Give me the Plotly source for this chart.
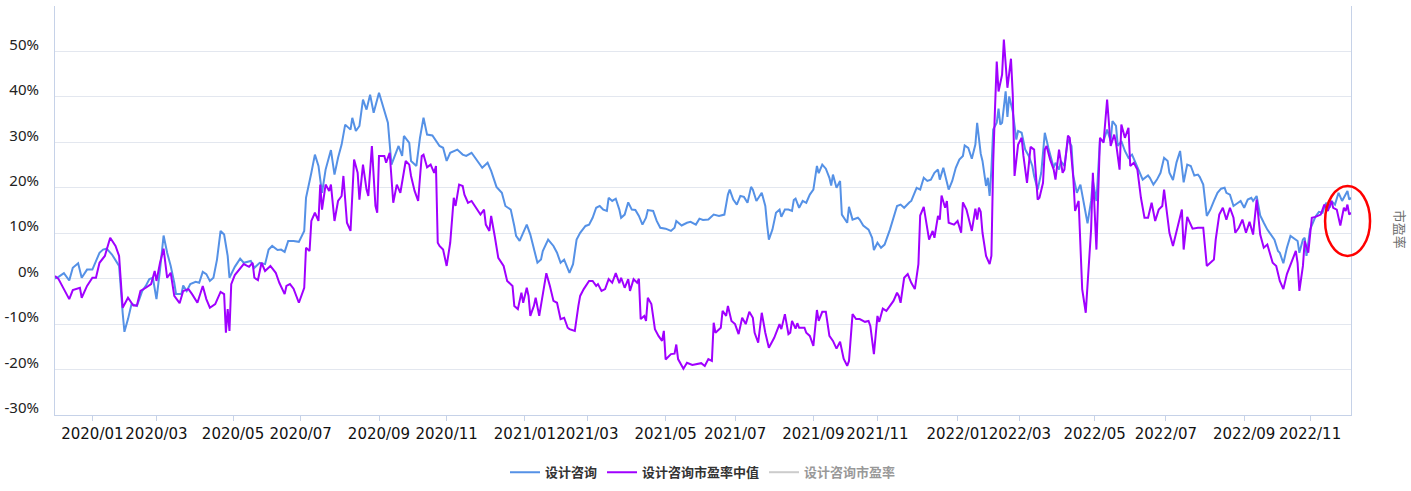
import pandas as pd
import plotly.graph_objects as go

# ---------------- data ----------------
start_date = "2019-12-03"
end_date = "2022-12-02"

# weekday exchange holidays (SSE) inside the window
market_holidays = [
    "2020-01-01", "2020-01-24", "2020-01-27", "2020-01-28", "2020-01-29", "2020-01-30", "2020-01-31",
    "2020-04-06", "2020-05-01", "2020-05-04", "2020-05-05", "2020-06-25", "2020-06-26",
    "2020-10-01", "2020-10-02", "2020-10-05", "2020-10-06", "2020-10-07", "2020-10-08",
    "2021-01-01", "2021-02-11", "2021-02-12", "2021-02-15", "2021-02-16", "2021-02-17",
    "2021-04-05", "2021-05-03", "2021-05-04", "2021-05-05", "2021-06-14", "2021-09-20", "2021-09-21",
    "2021-10-01", "2021-10-04", "2021-10-05", "2021-10-06", "2021-10-07",
    "2022-01-03", "2022-01-31", "2022-02-01", "2022-02-02", "2022-02-03", "2022-02-04",
    "2022-04-04", "2022-04-05", "2022-05-02", "2022-05-03", "2022-05-04", "2022-06-03",
    "2022-09-12", "2022-10-03", "2022-10-04", "2022-10-05", "2022-10-06", "2022-10-07",
]

tick_months = ["2020-01", "2020-03", "2020-05", "2020-07", "2020-09", "2020-11",
               "2021-01", "2021-03", "2021-05", "2021-07", "2021-09", "2021-11",
               "2022-01", "2022-03", "2022-05", "2022-07", "2022-09", "2022-11"]
tick_labels = ["2020/01", "2020/03", "2020/05", "2020/07", "2020/09", "2020/11",
               "2021/01", "2021/03", "2021/05", "2021/07", "2021/09", "2021/11",
               "2022/01", "2022/03", "2022/05", "2022/07", "2022/09", "2022/11"]

y_tick_values = [-30, -20, -10, 0, 10, 20, 30, 40, 50, 60]
y_tick_labels = ["-30%", "-20%", "-10%", "0%", "10%", "20%", "30%", "40%", "50%", ""]

series_names = ["设计咨询", "设计咨询市盈率中值", "设计咨询市盈率"]

# trading-day number (0 = 2019-12-03) and value (%) for 设计咨询
blue_day = [0, 2, 5, 8, 10, 13, 15, 18, 21, 23, 25, 27, 29, 32, 35, 36, 38, 39, 41, 43, 46, 49, 51, 53, 55, 57, 59, 61, 63, 65,
            67, 68, 71, 72, 74, 76, 79, 81, 83, 85, 87, 89, 91, 93, 95, 97, 98, 101, 104, 106, 110, 112, 115, 118, 120, 122, 125, 127, 129, 131,
            134, 137, 140, 141, 144, 146, 148, 150, 152, 155, 157, 159, 161, 163, 166, 167, 169, 171, 173, 175, 177, 179, 182, 185, 187, 189, 191, 193, 195, 196,
            199, 200, 203, 205, 207, 209, 212, 214, 216, 218, 220, 222, 226, 229, 231, 234, 237, 240, 243, 245, 248, 251, 253, 256, 258, 259, 261, 263, 265, 267,
            269, 271, 273, 274, 277, 280, 282, 284, 286, 289, 291, 293, 295, 298, 300, 302, 304, 306, 308, 310, 311, 313, 315, 317, 318, 320, 322, 324, 326, 328,
            330, 332, 333, 336, 338, 340, 343, 346, 348, 349, 352, 355, 357, 360, 362, 364, 367, 370, 373, 376, 378, 379, 381, 383, 385, 387, 389, 391, 392, 394,
            397, 399, 400, 401, 403, 405, 407, 408, 410, 412, 414, 415, 416, 418, 420, 422, 424, 426, 428, 429, 431, 433, 435, 436, 437, 439, 441, 442, 445, 446,
            448, 451, 452, 454, 457, 459, 460, 462, 464, 466, 469, 471, 473, 475, 477, 480, 481, 484, 486, 488, 490, 492, 494, 496, 497, 499, 501, 502, 504, 506,
            508, 510, 511, 513, 515, 517, 518, 520, 521, 523, 524, 525, 526, 527, 529, 530, 531, 532, 534, 535, 536, 538, 540, 541, 543, 545, 547, 549, 550, 552,
            554, 556, 558, 561, 562, 564, 565, 567, 569, 571, 572, 574, 576, 578, 580, 582, 583, 585, 587, 589, 591, 593, 594, 596, 597, 599, 601, 603, 605, 607,
            609, 611, 614, 615, 617, 619, 621, 623, 625, 626, 628, 630, 632, 634, 636, 638, 640, 642, 643, 645, 647, 649, 651, 653, 655, 657, 658, 660, 662, 664,
            666, 668, 670, 672, 673, 675, 677, 679, 681, 683, 685, 687, 688, 690, 692, 694, 696, 698, 699, 701, 702, 703, 705, 708, 710, 712, 714, 716, 717, 719,
            721, 723, 726, 727, 728]
blue_val = [0.0, 0.4, 1.2, -0.4, 2.4, 3.4, 0.2, 2.0, 2.0, 3.9, 5.7, 6.4, 6.6, 5.3, 3.5, 2.8, -7.5, -11.7, -8.9, -5.6, -6.0, -2.7, -1.6, -0.1, 0.2, -4.5, 2.0, 9.5, 5.7, 2.8,
            -0.9, -3.4, -3.4, -1.5, -2.7, -1.2, -0.7, -0.9, 1.5, 1.0, -0.5, 0.2, 4.2, 10.5, 9.7, 5.0, 0.2, 2.6, 4.4, 3.5, 3.9, 2.4, 3.5, 3.2, 6.4, 7.2, 6.3, 6.4, 5.9, 8.3,
            8.3, 8.1, 10.5, 17.8, 23.3, 27.3, 24.8, 18.9, 24.0, 28.3, 22.9, 26.6, 29.5, 33.9, 32.8, 35.4, 32.5, 33.6, 39.4, 37.2, 40.5, 36.5, 40.9, 36.8, 34.3, 25.1, 27.0, 29.2, 27.0, 31.4,
            29.9, 25.9, 24.8, 31.0, 35.4, 31.7, 31.5, 30.3, 29.2, 28.8, 25.9, 27.7, 28.4, 27.3, 27.0, 27.7, 25.9, 24.4, 25.5, 23.7, 20.2, 18.9, 16.0, 15.2, 11.6, 9.4, 8.3, 10.1, 11.9, 9.7,
            6.4, 3.5, 4.2, 6.1, 8.6, 7.2, 5.7, 3.5, 4.2, 1.3, 3.2, 8.6, 10.1, 11.6, 11.9, 13.4, 15.6, 16.0, 15.2, 14.9, 17.8, 17.1, 17.6, 15.2, 13.4, 14.1, 16.8, 15.2, 15.1, 13.8,
            11.9, 13.4, 15.1, 14.9, 12.7, 11.2, 11.0, 10.5, 11.2, 12.7, 11.7, 12.3, 12.5, 11.9, 13.2, 12.9, 13.0, 14.1, 13.8, 14.1, 18.5, 19.6, 17.4, 16.3, 18.2, 18.0, 16.7, 20.2, 19.6, 17.1,
            18.9, 16.0, 11.9, 8.6, 10.8, 14.5, 15.2, 13.6, 15.2, 15.2, 14.9, 17.3, 17.6, 15.6, 17.1, 16.7, 18.5, 19.6, 24.8, 23.2, 25.1, 24.2, 22.2, 20.5, 22.9, 20.0, 21.5, 14.1, 12.3, 15.8,
            13.0, 13.4, 13.0, 11.7, 10.8, 9.0, 6.3, 7.9, 6.8, 7.5, 10.8, 13.4, 16.0, 16.3, 15.6, 16.8, 17.1, 20.0, 19.6, 22.2, 21.5, 21.8, 23.3, 24.0, 21.8, 24.4, 20.7, 19.6, 21.5, 24.4,
            26.2, 27.0, 29.3, 28.8, 26.4, 29.5, 34.3, 27.5, 25.9, 20.4, 22.2, 18.2, 24.0, 32.8, 34.3, 37.4, 33.9, 34.3, 41.2, 35.6, 40.1, 36.8, 30.6, 32.5, 32.1, 28.4, 27.0, 24.8, 22.6, 19.6,
            23.3, 32.1, 28.8, 24.4, 25.5, 24.0, 25.9, 24.8, 30.6, 29.2, 22.6, 18.9, 20.7, 16.0, 12.2, 17.1, 21.5, 17.1, 30.6, 30.3, 32.8, 30.3, 34.7, 33.6, 29.2, 30.3, 28.1, 26.6, 27.3, 25.5,
            23.7, 21.8, 22.7, 22.2, 20.7, 21.8, 23.3, 26.6, 25.9, 23.3, 21.7, 25.6, 28.1, 21.2, 25.1, 24.8, 22.7, 22.9, 22.4, 20.7, 13.8, 15.2, 17.1, 18.9, 19.8, 20.0, 18.9, 18.5, 16.0, 16.5,
            17.1, 15.6, 17.4, 17.8, 17.1, 18.2, 13.9, 12.3, 10.8, 9.7, 8.6, 6.1, 5.7, 3.4, 6.8, 9.4, 8.8, 8.3, 5.7, 8.6, 9.0, 5.0, 10.8, 13.6, 14.7, 14.5, 16.7, 15.6, 17.1, 16.3,
            18.9, 17.1, 19.3, 17.4, 17.8]

# trading-day number and value (%) for 设计咨询市盈率中值
purple_day = [0, 2, 5, 8, 10, 14, 15, 18, 21, 23, 25, 28, 31, 34, 36, 38, 41, 44, 46, 48, 51, 54, 56, 57, 59, 61, 63, 65, 67, 70,
              72, 75, 77, 80, 83, 85, 87, 90, 93, 95, 96, 97, 98, 99, 101, 104, 106, 109, 111, 112, 114, 116, 118, 121, 124, 126, 129, 130, 132, 134,
              137, 140, 141, 143, 144, 146, 148, 149, 150, 152, 154, 155, 157, 159, 161, 162, 164, 166, 168, 170, 171, 173, 175, 176, 178, 180, 181, 182, 185, 186,
              188, 190, 192, 194, 197, 199, 200, 202, 204, 205, 206, 207, 209, 211, 213, 214, 215, 216, 218, 220, 222, 224, 225, 227, 229, 230, 232, 234, 237, 239,
              241, 242, 244, 245, 247, 249, 252, 254, 257, 258, 260, 262, 263, 265, 266, 267, 269, 270, 272, 274, 276, 278, 280, 282, 284, 286, 288, 289, 292, 294,
              295, 297, 300, 302, 304, 305, 307, 309, 311, 313, 315, 317, 318, 320, 322, 323, 325, 327, 328, 329, 331, 332, 333, 335, 337, 339, 341, 342, 343, 346,
              348, 349, 350, 353, 355, 358, 361, 363, 365, 367, 369, 370, 371, 374, 375, 377, 378, 380, 382, 384, 386, 388, 390, 392, 393, 395, 397, 399, 401, 404,
              407, 408, 410, 412, 413, 414, 416, 417, 418, 421, 422, 424, 426, 428, 429, 431, 433, 435, 437, 439, 441, 443, 445, 446, 448, 450, 452, 455, 457, 458,
              460, 462, 463, 465, 467, 469, 471, 473, 474, 475, 477, 479, 481, 483, 484, 485, 486, 488, 491, 493, 494, 496, 497, 498, 500, 501, 502, 505, 507, 509,
              510, 512, 515, 517, 518, 519, 520, 521, 523, 525, 526, 527, 528, 529, 530, 532, 533, 535, 537, 538, 539, 541, 543, 544, 546, 547, 548, 550, 552, 553,
              555, 556, 557, 559, 561, 562, 564, 566, 567, 569, 570, 572, 573, 575, 577, 579, 582, 583, 585, 587, 589, 591, 593, 595, 596, 598, 599, 601, 603, 604,
              606, 608, 610, 612, 614, 616, 618, 620, 622, 623, 624, 626, 628, 630, 633, 634, 636, 639, 642, 645, 647, 649, 651, 652, 654, 656, 658, 660, 662, 663,
              665, 667, 669, 671, 673, 675, 677, 679, 681, 684, 686, 688, 690, 692, 694, 697, 698, 699, 701, 702, 704, 706, 708, 711, 713, 715, 717, 718, 720, 722,
              724, 725, 726, 727, 728]
purple_val = [0.6, -0.1, -2.3, -4.5, -2.5, -2.0, -4.2, -1.6, 0.2, 0.2, 3.5, 5.0, 9.0, 7.2, 5.0, -6.4, -4.2, -5.9, -5.9, -2.7, -2.0, -1.2, 1.7, -0.5, 3.5, 6.6, 0.2, 1.3, -3.8, -5.4,
              -2.7, -2.3, -3.4, -5.3, -1.6, -4.5, -6.4, -5.6, -2.9, -3.4, -11.9, -6.7, -11.5, -1.2, 0.8, 2.3, 3.2, 2.6, 3.5, 0.2, -0.3, 3.5, 1.7, 2.8, 1.3, -0.9, -3.4, -1.6, -1.2, -2.2,
              -5.3, -2.0, 6.8, 6.1, 12.7, 14.5, 12.7, 20.7, 15.2, 20.7, 19.3, 20.7, 12.7, 17.1, 18.2, 22.6, 12.3, 10.5, 26.2, 23.3, 17.4, 25.1, 19.6, 18.2, 29.2, 16.0, 14.5, 27.0, 27.0, 25.5,
              27.7, 16.7, 20.7, 18.9, 25.9, 25.1, 22.6, 19.3, 17.1, 22.2, 27.0, 27.3, 24.5, 25.1, 23.3, 24.8, 7.9, 7.2, 6.4, 2.8, 7.9, 17.8, 16.0, 20.7, 20.4, 18.5, 16.7, 17.1, 15.2, 14.1,
              15.2, 11.9, 10.5, 13.8, 9.4, 4.6, 2.8, -0.5, -1.6, -6.0, -6.7, -3.1, -5.3, -2.0, -3.8, -8.2, -6.0, -4.2, -8.2, -3.1, 1.2, -1.6, -4.9, -5.3, -8.9, -8.6, -10.8, -11.1, -11.5, -6.0,
              -3.8, -2.3, -0.5, -0.5, -1.6, -1.2, -2.7, -2.3, -0.1, -0.9, 1.2, -1.0, 0.2, -2.0, -0.1, -2.7, -0.1, -0.9, 0.0, -8.9, -8.2, -9.3, -4.2, -5.6, -11.1, -12.6, -13.7, -11.5, -17.8, -16.6,
              -16.5, -14.5, -17.7, -19.8, -18.5, -19.0, -18.8, -18.6, -19.2, -17.7, -18.1, -9.7, -11.9, -10.8, -7.1, -8.2, -6.0, -9.3, -10.0, -12.2, -8.6, -10.0, -7.3, -8.6, -11.9, -14.1, -7.5, -11.9, -15.2, -13.0,
              -10.0, -11.1, -7.8, -12.2, -11.9, -9.3, -11.0, -9.8, -10.8, -10.8, -11.9, -12.6, -14.8, -6.9, -9.3, -7.3, -7.3, -12.6, -13.7, -15.4, -13.9, -17.6, -19.2, -18.1, -7.8, -8.9, -8.9, -9.5, -9.3, -10.4,
              -16.6, -8.2, -9.5, -6.6, -7.1, -6.0, -4.9, -3.1, -3.8, -5.3, 0.2, 1.0, -0.9, -2.3, 0.6, 3.2, 13.9, 15.8, 8.6, 10.5, 9.0, 13.8, 13.0, 18.3, 15.6, 17.1, 12.3, 11.9, 12.7, 10.1,
              16.8, 15.2, 10.5, 15.4, 13.0, 15.6, 14.7, 10.1, 5.0, 3.2, 5.0, 25.5, 37.2, 47.8, 41.2, 44.9, 52.6, 42.0, 48.4, 40.5, 22.6, 29.5, 31.0, 27.0, 21.1, 24.8, 29.0, 28.4, 17.4, 17.8,
              21.1, 28.4, 29.2, 26.2, 24.0, 21.8, 28.4, 23.3, 24.0, 31.5, 31.0, 22.2, 14.9, 17.1, -2.3, -7.5, 10.8, 23.3, 6.4, 31.0, 29.9, 39.4, 29.2, 31.7, 29.9, 24.0, 33.9, 31.0, 33.2, 24.8,
              25.5, 24.0, 17.8, 13.4, 13.4, 16.7, 12.7, 15.2, 16.0, 19.6, 16.5, 10.1, 7.2, 10.5, 15.2, 6.4, 13.6, 11.0, 11.2, 11.2, 2.8, 3.5, 4.2, 8.6, 14.1, 15.6, 13.0, 15.6, 13.4, 10.1,
              11.2, 13.0, 10.1, 12.5, 9.7, 17.4, 9.7, 6.8, 7.5, 3.5, 2.8, -0.5, -2.3, 1.0, 3.2, 6.1, 3.5, -2.7, 2.8, 8.3, 5.7, 13.4, 13.6, 14.1, 16.3, 14.9, 17.1, 15.6, 15.2, 11.7,
              15.6, 14.9, 16.3, 14.1, 14.5]

# 设计咨询市盈率 is switched off in the legend: its values are not shown in the picture
pe_day = [0]
pe_val = [None]

# ---------------- figure ----------------
holiday_set = set(market_holidays)
trading_days = [d.strftime("%Y-%m-%d") for d in pd.bdate_range(start_date, end_date)
                if d.strftime("%Y-%m-%d") not in holiday_set]
tick_dates = [next(d for d in trading_days if d.startswith(m)) for m in tick_months]

blue_color = "#5591e6"
purple_color = "#a000ff"
grid_color = "#e3e7ef"
axis_color = "#c6d2e8"

fig = go.Figure()
fig.add_trace(go.Scatter(
    x=[trading_days[i] for i in blue_day], y=blue_val, name=series_names[0],
    mode="lines", line=dict(color=blue_color, width=2), yaxis="y"))
fig.add_trace(go.Scatter(
    x=[trading_days[i] for i in purple_day], y=purple_val, name=series_names[1],
    mode="lines", line=dict(color=purple_color, width=2), yaxis="y"))
fig.add_trace(go.Scatter(
    x=[trading_days[i] for i in pe_day], y=pe_val, name=series_names[2],
    mode="lines", line=dict(color="#9a9a9a", width=2), yaxis="y2", visible="legendonly"))

fig.update_layout(
    width=1411, height=491,
    margin=dict(l=55, r=60, t=6, b=76, autoexpand=False),
    plot_bgcolor="white", paper_bgcolor="white",
    font=dict(family="Noto Sans CJK SC, Noto Sans, sans-serif", color="#333"),
    showlegend=True,
    legend=dict(orientation="h", x=0.5, xanchor="center", y=-0.14, yanchor="middle",
                font=dict(size=13, color="#333", weight="bold"), itemwidth=30,
                bgcolor="rgba(0,0,0,0)"),
    xaxis=dict(
        type="category", categoryorder="array", categoryarray=trading_days,
        range=[0, len(trading_days) - 1], automargin=False,
        tickmode="array", tickvals=tick_dates, ticktext=tick_labels, tickangle=0,
        ticks="outside", ticklen=5, tickcolor=axis_color,
        showline=True, linecolor=axis_color, linewidth=1,
        showgrid=False, zeroline=False,
        tickfont=dict(family="DejaVu Sans, sans-serif", size=15, color="#111"),
    ),
    yaxis=dict(
        range=[-30, 60], tickmode="array", tickvals=y_tick_values, ticktext=y_tick_labels,
        showgrid=True, gridcolor=grid_color, gridwidth=1, automargin=False,
        showline=True, linecolor=axis_color, linewidth=1, mirror=True,
        zeroline=False, ticks="", ticklabelstandoff=12, ticklabelshift=-7,
        tickfont=dict(family="Noto Sans, sans-serif", size=15, color="#222"),
    ),
    yaxis2=dict(
        overlaying="y", side="right", range=[-30, 60], automargin=False,
        showgrid=False, zeroline=False, showticklabels=False, showline=False,
    ),
    annotations=[dict(
        text="市盈率", xref="paper", yref="paper", x=1.038, y=0.455,
        showarrow=False, textangle=90, font=dict(size=13, color="#6e6e6e"),
        xanchor="center", yanchor="middle")],
    shapes=[dict(
        type="circle", xref="paper", yref="paper",
        x0=0.980, x1=1.0147, y0=0.389, y1=0.560,
        line=dict(color="#ff0000", width=2.5))],
)

fig.write_html("out.html", config={"displayModeBar": False},
               post_script="document.body.style.margin='0px';")
